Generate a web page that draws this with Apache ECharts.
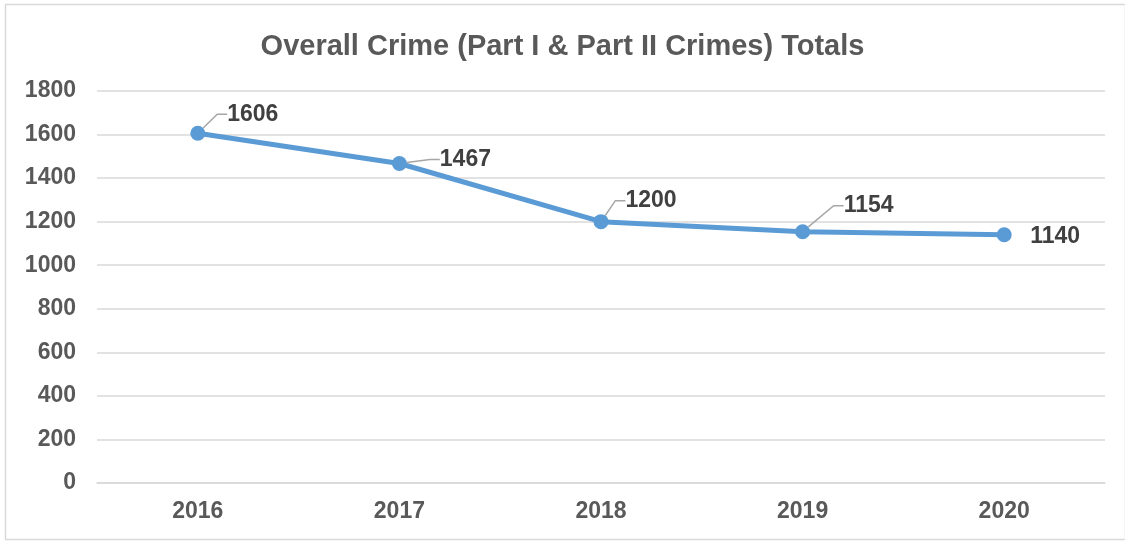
<!DOCTYPE html>
<html>
<head>
<meta charset="utf-8">
<script src="https://cdn.jsdelivr.net/npm/echarts@6/dist/echarts.min.js"></script>
<style>
  html, body { margin: 0; padding: 0; background: #fff; }
  #chart { width: 1125px; height: 542px; }
</style>
</head>
<body>
<div id="chart"></div>
<script>
const years = ['2016', '2017', '2018', '2019', '2020'];
const totals = [1606, 1467, 1200, 1154, 1140];
const yTicks = [0, 200, 400, 600, 800, 1000, 1200, 1400, 1600, 1800];

// label offsets from each point (dx, dy), and whether a leader line is drawn
const labelShift = [[55, -19], [66, -4], [50, -21], [66, -26], [51, 2]];
const hasLeader = [true, true, true, true, false];

const chart = echarts.init(document.getElementById('chart'), null, { renderer: 'canvas' });

const font = 'Liberation Sans, Arial, sans-serif';

const option = {
  backgroundColor: '#ffffff',
  animation: false,
  title: {
    text: 'Overall Crime (Part I & Part II Crimes) Totals',
    left: 'center',
    top: 27,
    textStyle: {
      fontFamily: font,
      fontSize: 29,
      fontWeight: 'bold',
      color: '#595959'
    }
  },
  graphic: [{
    type: 'rect',
    shape: { x: 5.5, y: 4.5, width: 1120, height: 535 },
    style: { fill: 'none', stroke: '#d9d9d9', lineWidth: 1.5 },
    silent: true
  }],
  grid: { left: 97, right: 20, top: 91, bottom: 59 },
  xAxis: {
    type: 'category',
    data: years,
    boundaryGap: true,
    axisLine: { lineStyle: { color: '#d9d9d9', width: 1.5 } },
    axisTick: { show: false },
    axisLabel: {
      margin: 17,
      fontFamily: font,
      fontSize: 23,
      fontWeight: 'bold',
      color: '#595959'
    }
  },
  yAxis: {
    type: 'value',
    min: yTicks[0],
    max: yTicks[yTicks.length - 1],
    interval: 200,
    axisLine: { show: false },
    axisTick: { show: false },
    splitLine: { lineStyle: { color: '#d9d9d9', width: 1.5 } },
    axisLabel: {
      margin: 21,
      formatter: v => String(v),
      fontFamily: font,
      fontSize: 23,
      fontWeight: 'bold',
      color: '#595959'
    }
  },
  series: [{
    type: 'line',
    data: totals.map((v, i) => ({
      value: v,
      labelLine: { show: hasLeader[i] }
    })),
    symbol: 'circle',
    symbolSize: 15,
    lineStyle: { color: '#5b9bd5', width: 5 },
    itemStyle: { color: '#5b9bd5' },
    label: {
      show: true,
      position: 'inside',
      padding: [0, 8],
      fontFamily: font,
      fontSize: 23,
      fontWeight: 'bold',
      color: '#404040'
    },
    labelLine: {
      show: true,
      length2: 10,
      lineStyle: { color: '#a6a6a6', width: 1.5 }
    },
    labelLayout: function (params) {
      const s = labelShift[params.dataIndex];
      return { dx: s[0], dy: s[1] };
    }
  }]
};

chart.setOption(option);
</script>
</body>
</html>
